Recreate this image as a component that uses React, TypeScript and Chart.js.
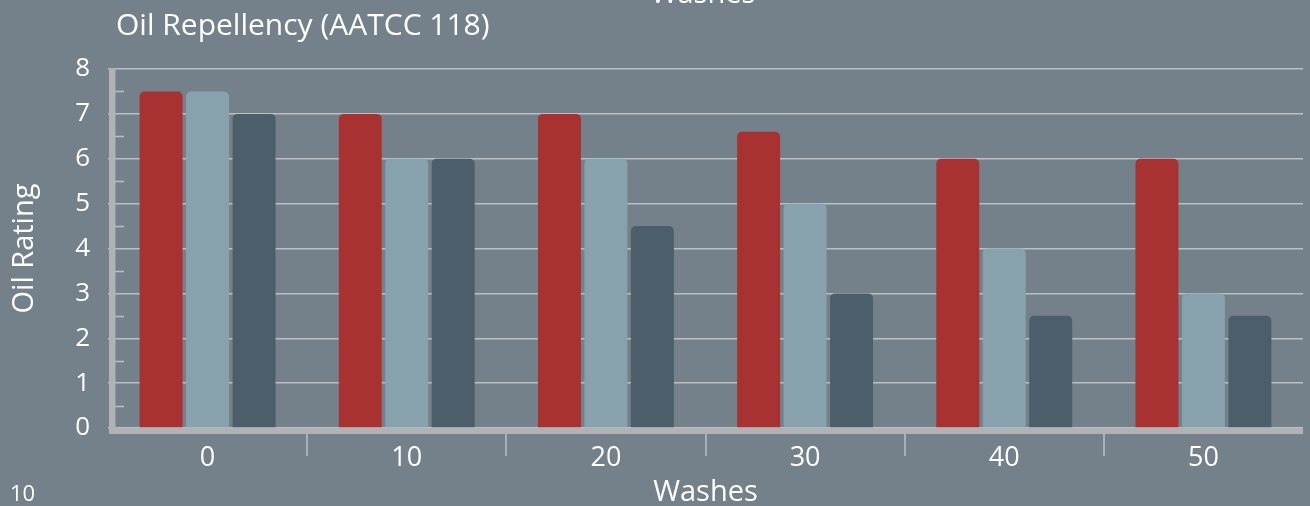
import React, { useEffect, useRef } from "react";
import { Chart, registerables } from "chart.js";

Chart.register(...registerables);

const categories = ["0", "10", "20", "30", "40", "50"];
const seriesRed = [7.5, 7, 7, 6.6, 6, 6];
const seriesLight = [7.5, 6, 6, 5, 4, 3];
const seriesDark = [7, 6, 4.5, 3, 2.5, 2.5];
const yMin = 0;
const yMax = 8;
const yStep = 1;
const minorTickValues = [0.5, 1.5, 2.5, 3.5, 4.5, 5.5, 6.5, 7.5];

const BG = "#74818a";
const AXIS = "#b0b2b5";
const GRID = "rgba(255,255,255,0.5)";
const FONT = "'Open Sans', 'Noto Sans', sans-serif";

const axisDecor = {
  id: "axisDecor",
  afterDraw(chart: any) {
    const { ctx, chartArea: a, scales } = chart;
    const y = scales.y;
    ctx.save();
    ctx.strokeStyle = GRID;
    ctx.lineWidth = 1.5;
    for (const v of minorTickValues) {
      const py = Math.round(y.getPixelForValue(v)) + 0.5;
      ctx.beginPath();
      ctx.moveTo(a.left + 7, py);
      ctx.lineTo(a.left + 16, py);
      ctx.stroke();
    }
    ctx.fillStyle = AXIS;
    ctx.fillRect(a.left + 1, a.top - 1, 6.5, a.bottom - a.top + 7);
    ctx.fillRect(a.left + 1, a.bottom, a.right - a.left - 1, 6);
    ctx.restore();
  },
};

export default function App() {
  const ref = useRef<HTMLCanvasElement | null>(null);

  useEffect(() => {
    document.body.style.margin = "0";
    const canvas = ref.current;
    if (!canvas) return;
    Chart.defaults.font.family = FONT;
    const chart = new Chart(canvas, {
      type: "bar",
      data: {
        labels: categories,
        datasets: [
          { label: "Series 1", data: seriesRed, backgroundColor: "#a83232" },
          { label: "Series 2", data: seriesLight, backgroundColor: "#87a2ad" },
          { label: "Series 3", data: seriesDark, backgroundColor: "#4d5e6b" },
        ].map((d) => ({
          ...d,
          borderRadius: 5,
          borderSkipped: "start" as const,
          barPercentage: 0.925,
          categoryPercentage: 0.7,
        })),
      },
      options: {
        responsive: false,
        animation: false,
        layout: { padding: { top: 69, right: 7, left: 0, bottom: 0 } },
        plugins: {
          legend: { display: false },
          tooltip: { enabled: false },
          title: { display: false },
        },
        scales: {
          x: {
            afterFit: (s: any) => {
              s.height = 78;
            },
            border: { display: false },
            grid: {
              drawOnChartArea: false,
              drawTicks: true,
              tickLength: 28,
              lineWidth: 2,
              color: (c: any) =>
                c.index === undefined || c.index === 0 ? "rgba(0,0,0,0)" : "#a9b1b6",
            },
            ticks: {
              padding: -14,
              color: "#ffffff",
              font: { size: 27, family: FONT },
            },
            title: {
              display: true,
              text: "Washes",
              color: "#ffffff",
              font: { size: 29, family: FONT, lineHeight: 1 },
              padding: { top: 0, bottom: -1 },
            },
          },
          y: {
            z: 1,
            min: yMin,
            max: yMax,
            afterFit: (s: any) => {
              s.width = 108;
            },
            border: { display: false },
            grid: {
              color: GRID,
              lineWidth: 1.5,
              drawTicks: false,
            },
            ticks: {
              stepSize: yStep,
              padding: 18,
              color: "#ffffff",
              font: { size: 26, family: FONT },
            },
            title: {
              display: true,
              text: "Oil Rating",
              color: "#ffffff",
              font: { size: 29, family: FONT, lineHeight: 1 },
              padding: { top: 10, bottom: 0 },
            },
          },
        },
      },
      plugins: [axisDecor],
    });
    return () => chart.destroy();
  }, []);

  const textBase: React.CSSProperties = {
    position: "absolute",
    fontFamily: FONT,
    color: "#ffffff",
    lineHeight: 1,
    whiteSpace: "nowrap",
  };

  return (
    <div
      style={{
        position: "relative",
        width: 1310,
        height: 506,
        overflow: "hidden",
        background: BG,
      }}
    >
      <canvas
        ref={ref}
        width={1310}
        height={506}
        style={{ position: "absolute", left: 0, top: 0, width: 1310, height: 506 }}
      />
      <div style={{ ...textBase, left: 116, top: 9, fontSize: 30 }}>
        Oil Repellency (AATCC 118)
      </div>
      <div
        style={{
          ...textBase,
          left: 703,
          top: -23,
          fontSize: 29,
          transform: "translateX(-50%)",
        }}
      >
        Washes
      </div>
      <div style={{ ...textBase, left: 10, top: 481, fontSize: 22 }}>10</div>
    </div>
  );
}
